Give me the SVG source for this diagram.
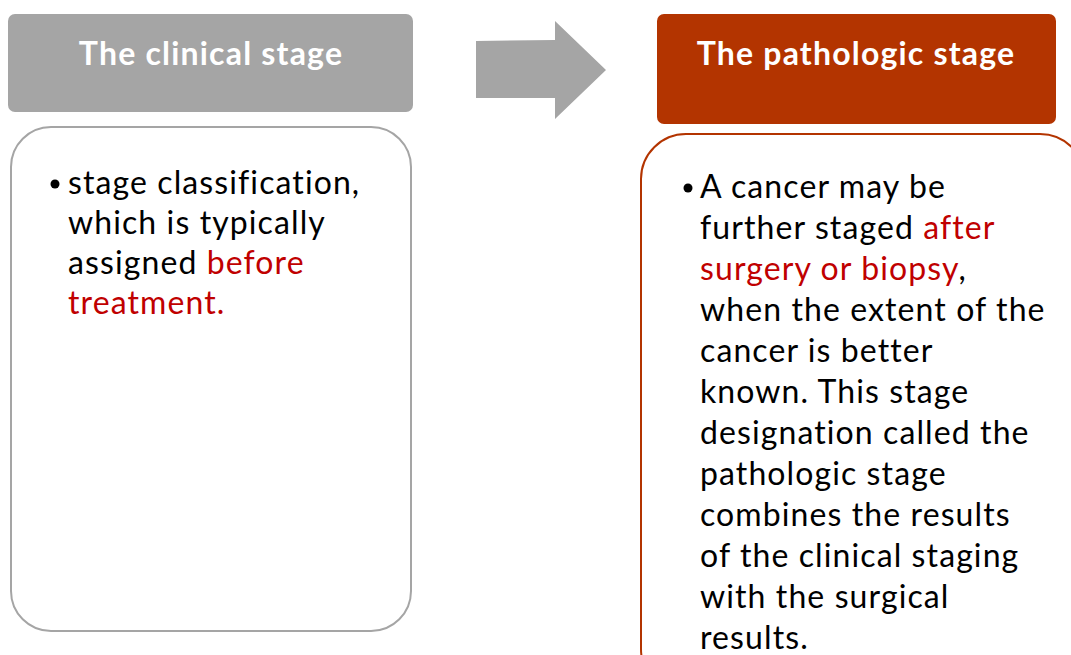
<svg xmlns="http://www.w3.org/2000/svg" width="1071" height="655" viewBox="0 0 1071 655">
<style>
.hdr{font-family:Lato,"Liberation Sans",sans-serif;font-weight:bold;font-size:32px;letter-spacing:1.2px;fill:#ffffff;text-anchor:middle;font-variant-ligatures:none}
.body{font-family:Lato,"Liberation Sans",sans-serif;font-size:32px;letter-spacing:1.1px;fill:#000000;font-variant-ligatures:none}
.red{fill:#c00000}
</style>
<rect width="1071" height="655" fill="#ffffff"/>
<g id="clinical-header">
<rect x="8" y="14" width="405" height="98" rx="7" fill="#a5a5a5"/>
<text class="hdr" x="211" y="65">The clinical stage</text>
</g>
<g id="clinical-body">
<rect x="11" y="127" width="400" height="504" rx="40" fill="#ffffff" stroke="#a5a5a5" stroke-width="2"/>
<circle cx="55" cy="184" r="4.5" fill="#000000"/>
<text class="body" x="68" y="194">stage classification,</text>
<text class="body" x="68" y="234">which is typically</text>
<text class="body" x="68" y="274">assigned <tspan class="red">before</tspan></text>
<text class="body red" x="68" y="314">treatment.</text>
</g>
<g id="connectors">
<polygon points="476,41 555,40 555,21 606,70 555,119 555,98 476,98" fill="#a5a5a5"/>
</g>
<g id="pathologic-header">
<rect x="657" y="14" width="399" height="110" rx="7" fill="#b33400"/>
<text class="hdr" x="856" y="65">The pathologic stage</text>
</g>
<g id="pathologic-body">
<rect x="641" y="134" width="444" height="560" rx="45" fill="#ffffff" stroke="#b33400" stroke-width="2"/>
<circle cx="688" cy="188" r="4.5" fill="#000000"/>
<text class="body" x="700" y="198">A cancer may be</text>
<text class="body" x="700" y="239">further staged <tspan class="red">after</tspan></text>
<text class="body" x="700" y="280"><tspan class="red">surgery or biopsy</tspan>,</text>
<text class="body" x="700" y="321">when the extent of the</text>
<text class="body" x="700" y="362">cancer is better</text>
<text class="body" x="700" y="403">known. This stage</text>
<text class="body" x="700" y="444">designation called the</text>
<text class="body" x="700" y="485">pathologic stage</text>
<text class="body" x="700" y="526">combines the results</text>
<text class="body" x="700" y="567">of the clinical staging</text>
<text class="body" x="700" y="608">with the surgical</text>
<text class="body" x="700" y="649">results.</text>
</g>
</svg>
